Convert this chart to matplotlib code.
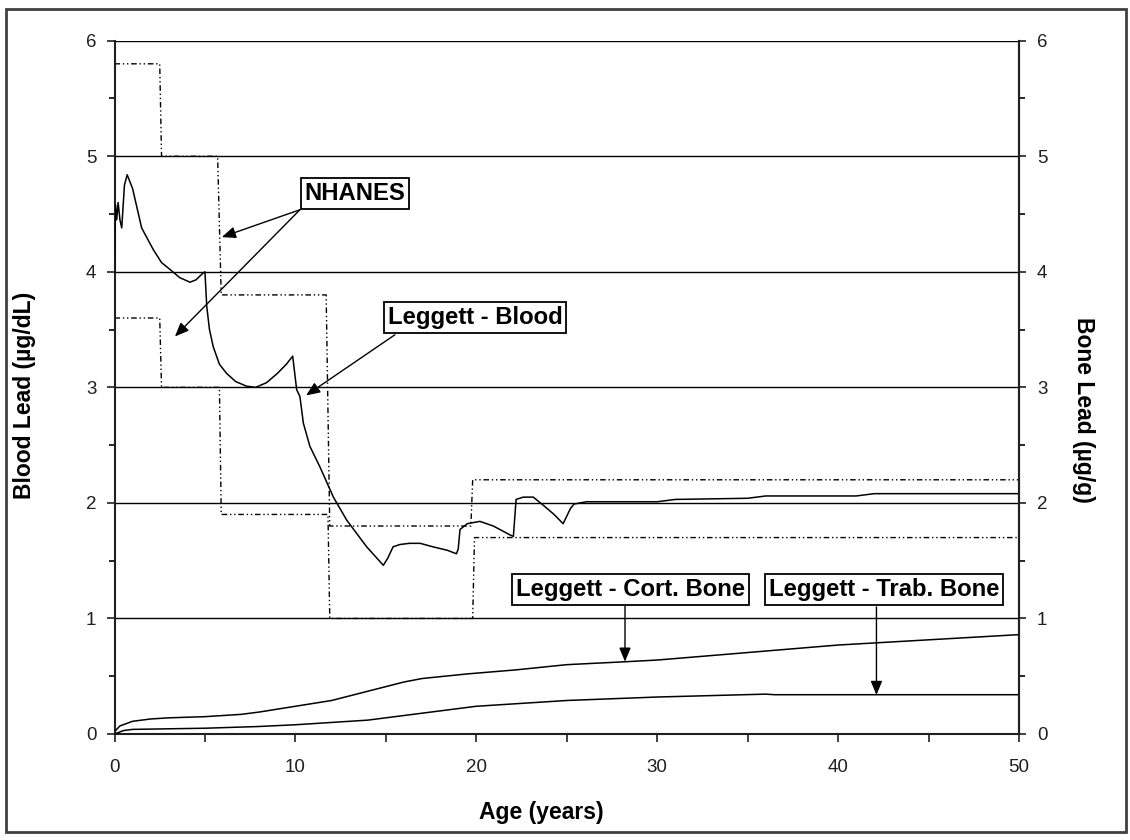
import matplotlib
matplotlib.use("Agg")
import matplotlib.pyplot as plt
from matplotlib.patches import Rectangle
from matplotlib.ticker import MultipleLocator

# ---------------- data ----------------
blood_age = [0, 0.05, 0.12, 0.2, 0.3, 0.4, 0.55, 0.7, 1.0, 1.5, 2.15, 2.6, 3.07, 3.6,
             4.17, 4.5, 4.9, 5.0, 5.1, 5.25, 5.46, 5.8, 6.2, 6.7, 7.3, 7.8, 8.4, 9.0,
             9.5, 9.85, 10.07, 10.25, 10.44, 10.8, 11.36, 12.1, 12.84, 13.94, 14.4,
             14.86, 15.1, 15.4, 15.78, 16.3, 16.9, 17.6, 18.4, 18.9, 19.0, 19.1, 19.5,
             20.2, 20.94, 21.9, 22.05, 22.2, 22.6, 23.15, 23.7, 24.3, 24.8, 25.2, 25.4,
             26.1, 27, 30, 31, 35, 36, 41, 42, 50]
blood_lead = [4.0, 4.58, 4.45, 4.6, 4.45, 4.38, 4.75, 4.84, 4.72, 4.38, 4.19, 4.08, 4.02,
              3.95, 3.91, 3.93, 3.99, 4.0, 3.70, 3.5, 3.35, 3.2, 3.12, 3.05, 3.01, 3.0,
              3.04, 3.12, 3.2, 3.27, 2.98, 2.92, 2.69, 2.49, 2.31, 2.05, 1.85, 1.62, 1.54,
              1.46, 1.52, 1.62, 1.64, 1.65, 1.65, 1.62, 1.59, 1.56, 1.6, 1.77, 1.82,
              1.84, 1.80, 1.72, 1.71, 2.03, 2.05, 2.05, 1.98, 1.9, 1.82, 1.95, 1.99,
              2.01, 2.01, 2.01, 2.03, 2.04, 2.06, 2.06, 2.08, 2.08]

cort_age = [0, 0.3, 1, 2, 3, 5, 7, 8, 10, 12, 14, 16, 17, 19.5, 22.2, 25, 28.2, 30, 40, 50]
cort_bone = [0.02, 0.07, 0.11, 0.13, 0.14, 0.15, 0.17, 0.19, 0.24, 0.29, 0.37, 0.45,
             0.48, 0.52, 0.555, 0.6, 0.625, 0.64, 0.77, 0.86]

trab_age = [0, 0.5, 1, 3, 5, 8, 10, 12, 14, 16, 18, 20, 22, 25, 30, 36, 36.5, 50]
trab_bone = [0.0, 0.03, 0.04, 0.045, 0.05, 0.065, 0.08, 0.1, 0.12, 0.16, 0.2, 0.24,
             0.26, 0.29, 0.32, 0.345, 0.34, 0.34]

nhanes_hi_age = [0, 2.5, 2.6, 5.7, 5.9, 11.7, 11.9, 19.7, 19.8, 50]
nhanes_hi = [5.8, 5.8, 5.0, 5.0, 3.8, 3.8, 1.8, 1.8, 2.2, 2.2]
nhanes_lo_age = [0, 2.5, 2.6, 5.8, 5.9, 11.8, 11.9, 19.8, 19.9, 50]
nhanes_lo = [3.6, 3.6, 3.0, 3.0, 1.9, 1.9, 1.0, 1.0, 1.7, 1.7]

x_ticks = [0, 10, 20, 30, 40, 50]
y_ticks = [0, 1, 2, 3, 4, 5, 6]

# ---------------- figure ----------------
W, H = 1130, 840
fig = plt.figure(figsize=(W / 100, H / 100), dpi=100)
ax = fig.add_axes([114.5 / W, 1 - 734 / H, (1019 - 114.5) / W, (734 - 40.7) / H])

bold_font = ['Liberation Sans', 'DejaVu Sans']
regular = ['Liberation Sans', 'DejaVu Sans']

ax.set_xlim(0, 50)
ax.set_ylim(0, 6)

for g in y_ticks[1:]:
    ax.axhline(g, color='black', lw=1.0, zorder=1)

dash = (0, (4, 2, 1, 2, 1, 2))
ax.plot(nhanes_hi_age, nhanes_hi, color='black', lw=1.0, linestyle=dash, zorder=2)
ax.plot(nhanes_lo_age, nhanes_lo, color='black', lw=1.0, linestyle=dash, zorder=2)
ax.plot(blood_age, blood_lead, color='black', lw=1.1, zorder=3)
ax.plot(cort_age, cort_bone, color='black', lw=1.1, zorder=3)
ax.plot(trab_age, trab_bone, color='black', lw=1.1, zorder=3)

# spines / ticks
ax.spines['top'].set_visible(False)
for s in ['left', 'right', 'bottom']:
    ax.spines[s].set_linewidth(1.5)
    ax.spines[s].set_color('#202020')

ax.set_xticks(x_ticks)
ax.xaxis.set_minor_locator(MultipleLocator(5))
ax.set_yticks(y_ticks)
ax.yaxis.set_minor_locator(MultipleLocator(0.5))
ax.tick_params(axis='x', which='both', direction='out', length=6, width=1.2,
               pad=12, labelsize=13.5, colors='#202020')
ax.tick_params(axis='y', which='major', direction='out', length=6, width=1.2,
               pad=7, labelsize=13.5, colors='#202020')
ax.tick_params(axis='y', which='minor', direction='out', length=4, width=1.2)
for lab in ax.get_xticklabels() + ax.get_yticklabels():
    lab.set_fontfamily(regular)

ax2 = ax.twinx()
ax2.set_ylim(0, 6)
ax2.set_yticks(y_ticks)
ax2.yaxis.set_minor_locator(MultipleLocator(0.5))
ax2.tick_params(axis='y', which='major', direction='out', length=5, width=1.2,
                pad=8, labelsize=13.5, colors='#202020')
ax2.tick_params(axis='y', which='minor', direction='out', length=4, width=1.2)
for s in ['left', 'top', 'bottom']:
    ax2.spines[s].set_visible(False)
ax2.spines['right'].set_linewidth(1.5)
ax2.spines['right'].set_color('#202020')
for lab in ax2.get_yticklabels():
    lab.set_fontfamily(regular)

# axis titles
fig.text(541 / W, 1 - 813 / H, 'Age (years)', ha='center', va='center',
         fontsize=16.5, fontweight='bold', family=bold_font)
fig.text(25 / W, 1 - 395 / H, 'Blood Lead (µg/dL)', ha='center', va='center',
         rotation=90, fontsize=16.5, fontweight='bold', family=bold_font)
fig.text(1083 / W, 1 - 410 / H, 'Bone Lead (µg/g)', ha='center', va='center',
         rotation=270, fontsize=16.5, fontweight='bold', family=bold_font)

# annotation boxes
box = dict(boxstyle='square,pad=0.16', facecolor='white', edgecolor='black', lw=1.3)
def label(x, y, s, size=17.2):
    ax.text(x, y, s, ha='center', va='center', fontsize=size, fontweight='bold',
            family=bold_font, bbox=box, zorder=6)

def arrow(x0, y0, x1, y1):
    ax.annotate('', xy=(x1, y1), xytext=(x0, y0), zorder=5,
                arrowprops=dict(arrowstyle='-|>,head_length=0.6,head_width=0.25',
                                mutation_scale=14, color='black', lw=1.0,
                                shrinkA=0, shrinkB=0))

arrow(10.25, 4.537, 5.93, 4.30)
arrow(10.25, 4.537, 3.34, 3.44)
arrow(15.5, 3.455, 10.59, 2.93)
arrow(28.22, 1.108, 28.22, 0.626)
arrow(42.12, 1.10, 42.12, 0.338)

label(13.29, 4.675, 'NHANES')
label(19.93, 3.606, 'Leggett - Blood')
label(28.52, 1.253, 'Leggett - Cort. Bone')
label(42.54, 1.251, 'Leggett - Trab. Bone')

# outer chart border
fig.patches.append(Rectangle((6 / W, 1 - 832 / H), (1126 - 6) / W, (832 - 9) / H,
                             transform=fig.transFigure, fill=False,
                             edgecolor='#404040', lw=2.0))

fig.savefig('out.png', dpi=100)
